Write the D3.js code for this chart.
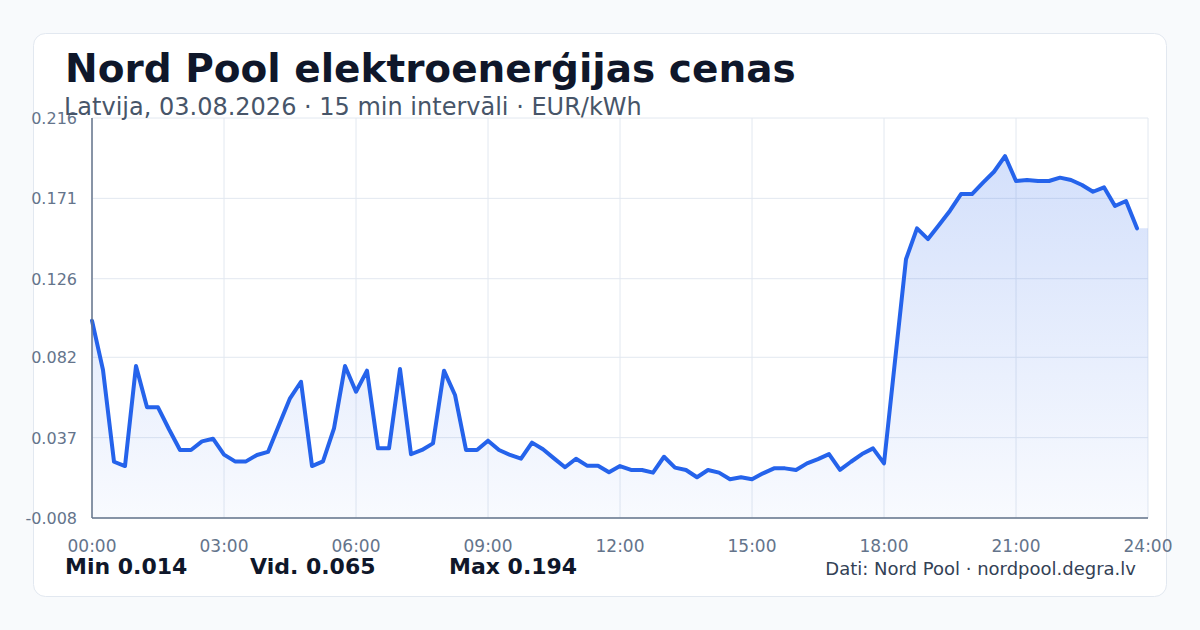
<!DOCTYPE html>
<html>
<head>
<meta charset="utf-8">
<script src="https://cdn.jsdelivr.net/npm/d3@7"></script>
<style>
  html, body { margin: 0; padding: 0; background: #f8fafc; }
  svg { display: block; font-family: "DejaVu Sans", sans-serif; }
</style>
</head>
<body>
<svg id="chart" width="1200" height="630"></svg>
<script>
// 15 min prices, EUR/kWh, 96 intervals
const prices = [
  0.1025, 0.0749, 0.0235, 0.0211, 0.0771, 0.0540, 0.0540, 0.0417,
  0.0301, 0.0301, 0.0349, 0.0364, 0.0275, 0.0237, 0.0237, 0.0273,
  0.0290, 0.0441, 0.0590, 0.0683, 0.0211, 0.0237, 0.0422, 0.0771,
  0.0627, 0.0745, 0.0310, 0.0310, 0.0754, 0.0277, 0.0301, 0.0338,
  0.0745, 0.0609, 0.0301, 0.0301, 0.0353, 0.0301, 0.0273, 0.0252,
  0.0342, 0.0305, 0.0254, 0.0204, 0.0252, 0.0213, 0.0213, 0.0176,
  0.0211, 0.0189, 0.0189, 0.0174, 0.0263, 0.0202, 0.0189, 0.0148,
  0.0189, 0.0174, 0.0137, 0.0148, 0.0137, 0.0170, 0.0198, 0.0198,
  0.0189, 0.0226, 0.0250, 0.0278, 0.0189, 0.0235, 0.0278, 0.0310,
  0.0226, 0.0799, 0.1369, 0.1542, 0.1482, 0.1561, 0.1641, 0.1734,
  0.1734, 0.1798, 0.1859, 0.1947, 0.1807, 0.1813, 0.1807, 0.1807,
  0.1826, 0.1813, 0.1785, 0.1747, 0.1772, 0.1667, 0.1695, 0.1542
];
const xTickHours = [0, 3, 6, 9, 12, 15, 18, 21, 24];
const yTicks = [-0.008, 0.037, 0.082, 0.126, 0.171, 0.216];
const stats = [
  { label: "Min", value: "0.014", x: 65 },
  { label: "Vid.", value: "0.065", x: 250 },
  { label: "Max", value: "0.194", x: 449 }
];

const svg = d3.select("#chart");
const plot = { left: 92, right: 1148, top: 118, bottom: 518 };

// card
svg.append("rect")
  .attr("x", 33.5).attr("y", 33.5)
  .attr("width", 1133).attr("height", 563)
  .attr("rx", 12)
  .attr("fill", "#ffffff")
  .attr("stroke", "#e2e8f0");

const x = d3.scaleLinear().domain([0, 96]).range([plot.left, plot.right]);
const y = d3.scaleLinear().domain([-0.008, 0.216]).range([plot.bottom, plot.top]);

// gridlines
svg.append("g")
  .selectAll("line")
  .data(yTicks)
  .join("line")
  .attr("x1", plot.left).attr("x2", plot.right)
  .attr("y1", d => y(d)).attr("y2", d => y(d))
  .attr("stroke", "#e2e8f0");

svg.append("g")
  .selectAll("line")
  .data(xTickHours)
  .join("line")
  .attr("x1", d => x(d * 4)).attr("x2", d => x(d * 4))
  .attr("y1", plot.top).attr("y2", plot.bottom)
  .attr("stroke", "#e2e8f0");

// area gradient
const grad = svg.append("defs").append("linearGradient")
  .attr("id", "fillGrad")
  .attr("x1", 0).attr("y1", 0).attr("x2", 0).attr("y2", 1);
grad.append("stop").attr("offset", "0%").attr("stop-color", "#2563eb").attr("stop-opacity", 0.2);
grad.append("stop").attr("offset", "100%").attr("stop-color", "#2563eb").attr("stop-opacity", 0.03);

// area runs to 24:00 holding last value
const areaData = prices.map((v, i) => [i, v]).concat([[96, prices[prices.length - 1]]]);
const area = d3.area()
  .x(d => x(d[0]))
  .y0(y(-0.008))
  .y1(d => y(d[1]));

svg.append("path")
  .datum(areaData)
  .attr("d", area)
  .attr("fill", "url(#fillGrad)");

const line = d3.line()
  .x((d, i) => x(i))
  .y(d => y(d));

svg.append("path")
  .datum(prices)
  .attr("d", line)
  .attr("fill", "none")
  .attr("stroke", "#2563eb")
  .attr("stroke-width", 4)
  .attr("stroke-linejoin", "round")
  .attr("stroke-linecap", "round");

// axes lines
svg.append("line")
  .attr("x1", plot.left).attr("x2", plot.left)
  .attr("y1", plot.top).attr("y2", plot.bottom)
  .attr("stroke", "#64748b").attr("stroke-width", 1.5);
svg.append("line")
  .attr("x1", plot.left).attr("x2", plot.right)
  .attr("y1", plot.bottom).attr("y2", plot.bottom)
  .attr("stroke", "#64748b").attr("stroke-width", 1.5);

// tick labels
svg.append("g")
  .selectAll("text")
  .data(yTicks)
  .join("text")
  .attr("x", 77)
  .attr("y", d => y(d) + 6)
  .attr("text-anchor", "end")
  .attr("font-size", 16)
  .attr("fill", "#64748b")
  .text(d => d.toFixed(3));

svg.append("g")
  .selectAll("text")
  .data(xTickHours)
  .join("text")
  .attr("x", d => x(d * 4))
  .attr("y", 552)
  .attr("text-anchor", "middle")
  .attr("font-size", 17)
  .attr("fill", "#64748b")
  .text(d => String(d).padStart(2, "0") + ":00");

// title
svg.append("text")
  .attr("x", 65).attr("y", 82)
  .attr("font-size", 39)
  .attr("font-weight", "bold")
  .attr("fill", "#0f172a")
  .text("Nord Pool elektroenerģijas cenas");

svg.append("text")
  .attr("x", 64).attr("y", 115)
  .attr("font-size", 24)
  .attr("fill", "#475569")
  .text("Latvija, 03.08.2026 · 15 min intervāli · EUR/kWh");

// stats
svg.append("g")
  .selectAll("text")
  .data(stats)
  .join("text")
  .attr("x", d => d.x)
  .attr("y", 574)
  .attr("font-size", 22)
  .attr("font-weight", "bold")
  .attr("fill", "#0f172a")
  .text(d => d.label + " " + d.value);

svg.append("text")
  .attr("x", 1136).attr("y", 575)
  .attr("text-anchor", "end")
  .attr("font-size", 18)
  .attr("fill", "#334155")
  .text("Dati: Nord Pool · nordpool.degra.lv");
</script>
</body>
</html>
